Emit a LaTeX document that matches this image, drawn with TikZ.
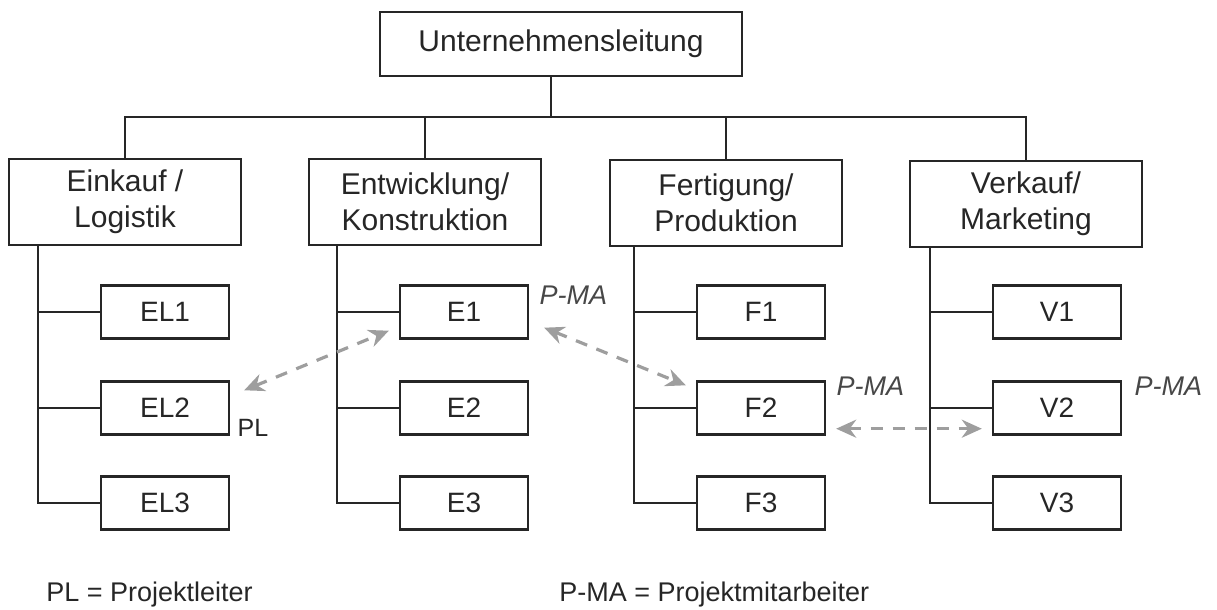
\documentclass[tikz,border=0pt]{standalone}
\usepackage{fontspec}
\setmainfont{Liberation Sans}
\usetikzlibrary{arrows.meta,calc}
\definecolor{ink}{gray}{0.15}
\definecolor{arr}{gray}{0.62}
\begin{document}
\begin{tikzpicture}[x=0.5pt,y=-0.5pt,
  box/.style={draw=ink, line width=1.2pt, rectangle, inner sep=0pt, align=center, text=ink},
  topbox/.style={box, minimum width=181pt, minimum height=32pt, font=\fontsize{15}{18}\selectfont},
  dept/.style={box, minimum width=116pt, minimum height=43pt, font=\fontsize{15}{18}\selectfont},
  subbox/.style={box, minimum width=64pt, minimum height=26.5pt, font=\fontsize{14}{16}\selectfont},
  conn/.style={draw=ink, line width=1.1pt},
  link/.style={draw=arr, line width=1.6pt, dash pattern=on 6pt off 5pt,
    {Stealth[length=10pt,width=9pt,fill=arr]}-{Stealth[length=10pt,width=9pt,fill=arr]}},
  pma/.style={inner sep=0pt, text=ink!85, font=\fontsize{13.5}{16}\selectfont\itshape},
  plabel/.style={inner sep=0pt, text=ink, font=\fontsize{12.5}{15}\selectfont},
  legtext/.style={inner sep=0pt, text=ink, font=\fontsize{13.5}{16}\selectfont}
]
\useasboundingbox (0,0) rectangle (1217,610);

% top
\node[topbox] (ul) at (561,44) {Unternehmensleitung};

% departments
\node[dept] (ein) at (125,202) {Einkauf /\\Logistik};
\node[dept] (ent) at (425,202) {Entwicklung/\\Konstruktion};
\node[dept] (fer) at (726,203) {Fertigung/\\Produktion};
\node[dept] (ver) at (1026,204) {Verkauf/\\Marketing};

% units
\node[subbox] (el1) at (165,312) {EL1};
\node[subbox] (el2) at (165,408) {EL2};
\node[subbox] (el3) at (165,503) {EL3};
\node[subbox] (e1) at (464,312) {E1};
\node[subbox] (e2) at (464,408) {E2};
\node[subbox] (e3) at (464,503) {E3};
\node[subbox] (f1) at (761,312) {F1};
\node[subbox] (f2) at (761,408) {F2};
\node[subbox] (f3) at (761,503) {F3};
\node[subbox] (v1) at (1057,312) {V1};
\node[subbox] (v2) at (1057,408) {V2};
\node[subbox] (v3) at (1057,503) {V3};

% top connectors
\coordinate (j) at (551,117);
\draw[conn] (ul.south -| j) -- (j);
\draw[conn] (ein.north) |- (j) -| (ver.north);
\draw[conn] (ent.north) -- (ent.north |- j);
\draw[conn] (fer.north) -- (fer.north |- j);

% spines
\coordinate (sein) at ($(ein.south west)+(30,0)$);
\coordinate (sent) at ($(ent.south west)+(29,0)$);
\coordinate (sfer) at ($(fer.south west)+(25,0)$);
\coordinate (sver) at ($(ver.south west)+(21,0)$);
\draw[conn] (sein) |- (el3.west);
\draw[conn] (el1.west) -- (el1.west -| sein);
\draw[conn] (el2.west) -- (el2.west -| sein);
\draw[conn] (sent) |- (e3.west);
\draw[conn] (e1.west) -- (e1.west -| sent);
\draw[conn] (e2.west) -- (e2.west -| sent);
\draw[conn] (sfer) |- (f3.west);
\draw[conn] (f1.west) -- (f1.west -| sfer);
\draw[conn] (f2.west) -- (f2.west -| sfer);
\draw[conn] (sver) |- (v3.west);
\draw[conn] (v1.west) -- (v1.west -| sver);
\draw[conn] (v2.west) -- (v2.west -| sver);

% project links
\draw[link] ($(el2.north east)+(14,10)$) -- ($(e1.south west)+(-10,-9)$);
\draw[link] ($(e1.south east)+(15,-12)$) -- ($(f2.north west)+(-10,5)$);
\draw[link] ($(f2.south east)+(10,-7)$) -- ($(v2.south west)+(-10,-7)$);

% labels
\node[pma, anchor=north west] (p1) at ($(e1.north east)+(10,1)$) {P-MA};
\node[pma, anchor=north west] (p2) at ($(f2.north east)+(10,-4)$) {P-MA};
\node[pma, anchor=north west] (p3) at ($(v2.north east)+(12,-4)$) {P-MA};
\node[plabel, anchor=south west] (pl) at ($(el2.south east)+(7,1)$) {PL};

% legend
\node[legtext, anchor=base west] (l1) at (46,601) {PL = Projektleiter};
\node[legtext, anchor=base west] (l2) at (559,601) {P-MA = Projektmitarbeiter};
\end{tikzpicture}
\end{document}
